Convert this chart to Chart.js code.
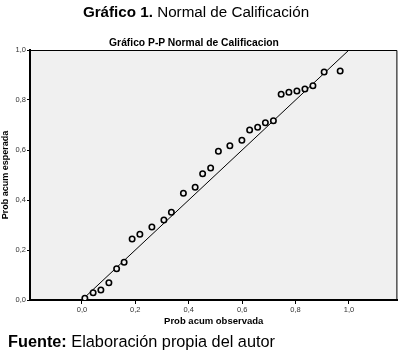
<!DOCTYPE html>
<html>
<head>
<meta charset="utf-8">
<script src="https://cdn.jsdelivr.net/npm/chart.js@4.4.1/dist/chart.umd.min.js"></script>
<style>
  html, body { margin: 0; padding: 0; background: #ffffff; }
  #wrap { position: relative; width: 403px; height: 354px; overflow: hidden; font-family: "Liberation Sans", Arial, sans-serif; }
  canvas { position: absolute; left: 0; top: 0; }
  .txt { position: absolute; white-space: nowrap; color: #000; }
  #mainTitle { left: 0; width: 392px; text-align: center; top: 3px; font-size: 15.2px; }
  #chartTitle { left: 0; width: 388px; text-align: center; top: 37px; font-size: 10.3px; font-weight: bold; }
  #footer { left: 8px; top: 332px; font-size: 16.3px; }
</style>
</head>
<body>
<div id="wrap">
  <canvas id="c" width="403" height="354"></canvas>
  <div class="txt" id="mainTitle"><b>Gráfico 1.</b> Normal de Calificación</div>
  <div class="txt" id="chartTitle">Gráfico P-P Normal de Calificacion</div>
  <div class="txt" id="footer"><b>Fuente:</b> Elaboración propia del autor</div>
</div>
<script>
// Observed cumulative probability (x) and expected cumulative probability (y)
const observedProb = [0.011,0.042,0.071,0.101,0.130,0.158,0.188,0.217,0.262,0.307,0.335,0.380,0.424,0.452,0.482,0.511,0.554,0.599,0.628,0.658,0.687,0.717,0.746,0.775,0.805,0.835,0.865,0.907,0.967];
const expectedProb = [0.007,0.029,0.040,0.069,0.125,0.151,0.244,0.263,0.292,0.320,0.351,0.427,0.451,0.505,0.528,0.595,0.617,0.639,0.680,0.691,0.709,0.717,0.823,0.831,0.836,0.844,0.857,0.912,0.916];
const referenceLine = [0, 1.2];
const tickValues = [0, 0.2, 0.4, 0.6, 0.8, 1.0];
const xAxisTitle = "Prob acum observada";
const yAxisTitle = "Prob acum esperada";

const fmt = v => v.toFixed(1).replace('.', ',');

const plotBg = {
  id: 'plotBg',
  beforeDraw(chart) {
    const {ctx, chartArea: a} = chart;
    ctx.save();
    ctx.fillStyle = '#f0f0f0';
    ctx.fillRect(a.left, a.top, a.right - a.left, a.bottom - a.top);
    ctx.restore();
  },
  afterDraw(chart) {
    const {ctx, chartArea: a} = chart;
    ctx.save();
    ctx.strokeStyle = '#000';
    ctx.lineWidth = 1;
    ctx.beginPath();
    ctx.moveTo(a.left, a.top + 0.5);
    ctx.lineTo(a.right - 0.5, a.top + 0.5);
    ctx.lineTo(a.right - 0.5, a.bottom);
    ctx.stroke();
    ctx.restore();
  }
};

new Chart(document.getElementById('c'), {
  type: 'scatter',
  data: {
    datasets: [
      {
        type: 'line',
        data: referenceLine.map(v => ({x: v, y: v})),
        borderColor: '#000',
        borderWidth: 1,
        pointRadius: 0,
        fill: false,
        order: 2
      },
      {
        data: observedProb.map((v, i) => ({x: v, y: expectedProb[i]})),
        pointStyle: 'circle',
        pointRadius: 2.7,
        pointBorderWidth: 1.6,
        pointBorderColor: '#000',
        pointBackgroundColor: '#f0f0f0',
        order: 1
      }
    ]
  },
  options: {
    responsive: false,
    animation: false,
    devicePixelRatio: 1,
    layout: { padding: { left: 0, top: 50, right: 5, bottom: 27 } },
    plugins: { legend: { display: false }, tooltip: { enabled: false }, title: { display: false } },
    scales: {
      x: {
        type: 'linear',
        min: -0.1944,
        max: 1.1813,
        afterBuildTicks: s => { s.ticks = tickValues.map(v => ({value: v})); },
        afterFit: s => { s.height = 27; },
        ticks: { callback: v => fmt(v), color: '#333', font: { family: 'Liberation Sans, Arial', size: 7.5 }, padding: 1, maxRotation: 0 },
        grid: { drawOnChartArea: false, drawTicks: true, tickLength: 4, color: '#000', lineWidth: 1 },
        border: { display: true, color: '#000', width: 2 },
        title: { display: true, text: xAxisTitle, color: '#000', font: { family: 'Liberation Sans, Arial', size: 9.5, weight: 'bold' }, padding: { top: 0, bottom: 0 } }
      },
      y: {
        type: 'linear',
        min: 0,
        max: 1.0,
        afterBuildTicks: s => { s.ticks = tickValues.map(v => ({value: v})); },
        afterFit: s => { s.width = 30; },
        ticks: { callback: v => fmt(v), color: '#333', font: { family: 'Liberation Sans, Arial', size: 7.5 }, padding: 1 },
        grid: { drawOnChartArea: false, drawTicks: true, tickLength: 3, color: '#000', lineWidth: 1 },
        border: { display: true, color: '#000', width: 2 },
        title: { display: true, text: yAxisTitle, color: '#000', font: { family: 'Liberation Sans, Arial', size: 9, weight: 'bold' }, padding: { top: 0, bottom: 0 } }
      }
    }
  },
  plugins: [plotBg]
});
</script>
</body>
</html>
